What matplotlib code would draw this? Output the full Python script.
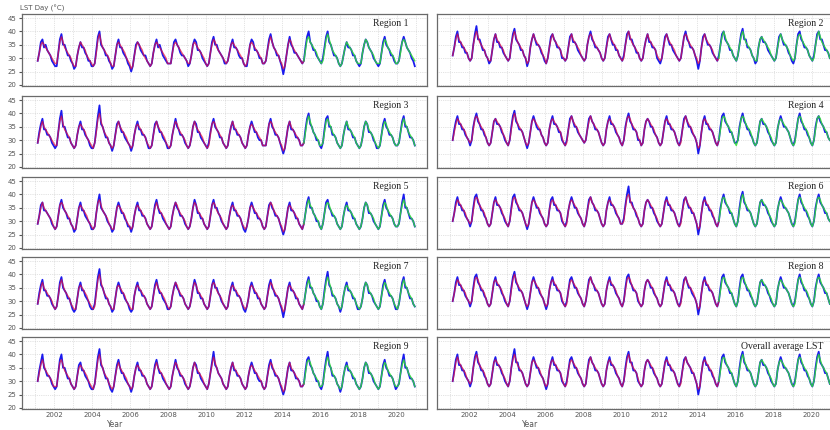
import numpy as np
import matplotlib
matplotlib.use("Agg")
import matplotlib.pyplot as plt
from matplotlib.ticker import MultipleLocator

# monthly LST Day (°C), Feb 2001 .. Dec 2020, one row per year
# *_obs = observed, *_mod = model (train until Feb 2015, test after)
r1_obs = [
    [29, 32, 36, 37, 34, 35, 33, 32, 31, 29, 28],
    [27, 27, 32, 37, 39, 35, 35, 33, 31, 31, 29, 28],
    [26, 27, 31, 34, 36, 34, 34, 32, 31, 29, 29, 27],
    [27, 28, 33, 38, 40, 35, 34, 33, 31, 31, 29, 28],
    [26, 27, 31, 35, 37, 34, 34, 32, 31, 30, 28, 27],
    [25, 27, 31, 35, 36, 35, 33, 32, 31, 31, 29, 28],
    [27, 28, 32, 35, 37, 34, 35, 33, 31, 30, 29, 28],
    [28, 28, 32, 36, 37, 35, 34, 32, 31, 31, 30, 29],
    [27, 28, 31, 35, 37, 36, 33, 33, 32, 30, 29, 28],
    [27, 28, 32, 36, 38, 35, 35, 33, 32, 31, 30, 28],
    [28, 29, 32, 35, 37, 34, 34, 33, 31, 30, 30, 28],
    [27, 27, 31, 35, 37, 36, 33, 33, 32, 30, 30, 28],
    [28, 29, 33, 37, 39, 36, 34, 33, 31, 31, 29, 27],
    [24, 27, 31, 35, 38, 35, 34, 32, 32, 31, 30, 29],
    [28, 29, 34, 38, 40, 36, 35, 33, 33, 31, 30, 29],
    [28, 30, 34, 38, 40, 36, 35, 33, 31, 31, 30, 28],
    [27, 28, 31, 34, 36, 34, 34, 33, 31, 31, 29, 28],
    [27, 28, 32, 35, 37, 36, 34, 33, 32, 30, 29, 28],
    [27, 28, 32, 36, 38, 35, 34, 33, 31, 31, 29, 28],
    [28, 29, 33, 36, 38, 36, 34, 33, 32, 30, 29, 27],
]
r1_mod = [
    [29, 32, 35, 36, 35, 34, 33, 32, 31, 30, 29],
    [28, 28, 32, 36, 38, 36, 34, 33, 32, 31, 30, 28],
    [27, 27, 31, 34, 36, 35, 34, 33, 31, 30, 29, 28],
    [27, 28, 32, 37, 39, 36, 34, 33, 32, 31, 30, 28],
    [27, 27, 31, 35, 36, 35, 34, 33, 32, 30, 29, 28],
    [26, 27, 31, 34, 36, 35, 34, 33, 31, 30, 29, 28],
    [27, 28, 32, 35, 36, 35, 34, 33, 32, 31, 30, 28],
    [28, 28, 32, 35, 36, 35, 34, 33, 32, 31, 30, 29],
    [28, 28, 31, 35, 36, 35, 34, 33, 32, 31, 30, 28],
    [27, 28, 32, 35, 37, 36, 34, 33, 32, 31, 30, 29],
    [28, 29, 32, 35, 36, 35, 34, 33, 32, 31, 30, 28],
    [27, 28, 31, 35, 36, 35, 34, 33, 32, 31, 30, 28],
    [28, 29, 33, 36, 38, 36, 34, 33, 32, 31, 29, 28],
    [26, 27, 31, 35, 37, 36, 34, 33, 32, 31, 30, 29],
    [28, 29, 33, 37, 38, 36, 35, 34, 33, 32, 30, 29],
    [28, 29, 33, 37, 39, 37, 35, 33, 32, 31, 30, 28],
    [27, 28, 31, 34, 36, 35, 34, 33, 32, 31, 29, 28],
    [28, 28, 32, 35, 37, 36, 34, 33, 32, 31, 29, 28],
    [28, 28, 32, 35, 37, 36, 34, 33, 32, 31, 30, 28],
    [28, 29, 32, 36, 37, 36, 34, 33, 32, 31, 30, 29],
]
r2_obs = [
    [31, 34, 38, 40, 36, 36, 34, 34, 32, 32, 30],
    [29, 30, 35, 39, 42, 37, 37, 35, 33, 33, 31, 30],
    [28, 29, 33, 37, 39, 36, 36, 34, 34, 32, 31, 30],
    [29, 30, 35, 39, 41, 37, 36, 35, 33, 33, 31, 30],
    [27, 29, 34, 37, 39, 37, 35, 35, 34, 32, 31, 29],
    [28, 30, 34, 38, 39, 37, 36, 34, 34, 33, 30, 30],
    [29, 30, 34, 38, 39, 36, 36, 35, 33, 32, 31, 30],
    [29, 30, 35, 38, 40, 37, 36, 34, 34, 33, 32, 30],
    [29, 30, 34, 38, 39, 37, 35, 35, 33, 33, 31, 30],
    [29, 31, 35, 39, 40, 37, 37, 35, 34, 32, 32, 30],
    [29, 30, 34, 37, 39, 36, 36, 34, 34, 33, 30, 29],
    [28, 30, 34, 38, 39, 37, 35, 35, 33, 32, 31, 30],
    [29, 30, 34, 38, 40, 37, 36, 34, 34, 33, 31, 29],
    [26, 29, 34, 38, 39, 37, 35, 35, 34, 32, 31, 30],
    [29, 31, 35, 39, 40, 37, 36, 35, 33, 33, 31, 30],
    [29, 31, 35, 39, 41, 37, 37, 34, 34, 33, 31, 30],
    [28, 29, 34, 37, 38, 36, 36, 35, 33, 32, 31, 30],
    [29, 30, 34, 38, 39, 37, 35, 35, 34, 32, 31, 29],
    [28, 30, 35, 39, 40, 37, 36, 34, 34, 33, 31, 30],
    [29, 31, 35, 39, 40, 37, 37, 35, 33, 33, 32, 30],
]
r2_mod = [
    [31, 34, 37, 39, 37, 36, 35, 34, 33, 32, 30],
    [29, 30, 35, 38, 40, 38, 36, 35, 34, 33, 31, 30],
    [29, 29, 33, 37, 39, 37, 36, 35, 34, 33, 31, 30],
    [29, 30, 35, 38, 40, 38, 36, 35, 34, 33, 31, 30],
    [28, 29, 34, 37, 39, 37, 36, 35, 34, 33, 31, 30],
    [28, 30, 34, 37, 39, 37, 36, 35, 34, 33, 31, 30],
    [29, 30, 34, 37, 39, 37, 36, 35, 34, 33, 31, 30],
    [29, 30, 35, 38, 39, 38, 36, 35, 34, 33, 32, 30],
    [29, 30, 34, 37, 39, 37, 36, 35, 34, 33, 31, 30],
    [29, 30, 35, 38, 40, 38, 36, 35, 34, 33, 32, 30],
    [29, 30, 34, 37, 39, 37, 36, 35, 34, 33, 31, 30],
    [29, 30, 34, 37, 39, 37, 36, 35, 34, 33, 31, 30],
    [29, 30, 34, 38, 39, 38, 36, 35, 34, 33, 31, 30],
    [28, 29, 34, 37, 39, 37, 36, 35, 34, 33, 31, 30],
    [29, 30, 35, 38, 40, 38, 36, 35, 34, 33, 31, 30],
    [29, 31, 35, 38, 40, 38, 36, 35, 34, 33, 31, 30],
    [29, 29, 34, 37, 38, 37, 36, 35, 34, 33, 31, 30],
    [29, 30, 34, 37, 39, 37, 36, 35, 34, 33, 31, 30],
    [29, 30, 35, 38, 39, 38, 36, 35, 34, 33, 31, 30],
    [29, 30, 35, 38, 40, 38, 36, 35, 34, 33, 32, 30],
]
r3_obs = [
    [29, 33, 36, 38, 34, 34, 32, 32, 31, 29, 28],
    [27, 28, 33, 38, 41, 35, 35, 33, 31, 31, 29, 28],
    [27, 28, 32, 35, 37, 34, 34, 32, 31, 30, 28, 27],
    [27, 29, 34, 39, 43, 36, 35, 33, 31, 31, 29, 28],
    [26, 28, 32, 36, 37, 35, 33, 33, 31, 30, 29, 28],
    [26, 28, 32, 35, 37, 34, 34, 32, 32, 31, 29, 27],
    [27, 28, 32, 36, 37, 35, 33, 33, 31, 30, 29, 27],
    [27, 28, 32, 35, 38, 35, 34, 32, 32, 31, 29, 28],
    [27, 28, 31, 35, 37, 36, 33, 33, 31, 30, 29, 28],
    [27, 29, 33, 36, 38, 35, 34, 33, 31, 31, 29, 28],
    [27, 28, 32, 35, 37, 34, 34, 32, 32, 31, 29, 28],
    [27, 28, 32, 35, 37, 35, 33, 33, 31, 30, 30, 28],
    [28, 28, 32, 36, 38, 35, 34, 32, 32, 31, 29, 27],
    [25, 27, 31, 35, 37, 34, 34, 33, 31, 31, 30, 28],
    [28, 29, 34, 38, 40, 36, 35, 33, 32, 30, 30, 28],
    [27, 29, 34, 38, 39, 35, 35, 32, 32, 31, 29, 28],
    [27, 28, 32, 35, 37, 34, 34, 33, 31, 31, 29, 28],
    [27, 28, 31, 35, 37, 36, 33, 33, 32, 30, 29, 27],
    [27, 28, 32, 36, 38, 35, 34, 32, 32, 31, 29, 28],
    [28, 29, 33, 37, 39, 35, 35, 33, 31, 31, 30, 28],
]
r3_mod = [
    [29, 32, 35, 37, 35, 34, 33, 32, 31, 30, 29],
    [28, 28, 33, 37, 39, 36, 34, 33, 32, 31, 29, 28],
    [27, 28, 32, 35, 36, 35, 34, 33, 31, 30, 29, 28],
    [27, 29, 33, 38, 40, 37, 35, 33, 32, 31, 29, 28],
    [27, 28, 32, 35, 37, 35, 34, 33, 32, 31, 29, 28],
    [27, 28, 32, 35, 36, 35, 34, 33, 32, 31, 29, 28],
    [27, 28, 32, 35, 37, 35, 34, 33, 32, 31, 29, 28],
    [27, 28, 32, 35, 37, 36, 34, 33, 32, 31, 30, 28],
    [27, 28, 31, 35, 37, 35, 34, 33, 32, 31, 29, 28],
    [27, 28, 32, 36, 37, 36, 34, 33, 32, 31, 29, 28],
    [27, 28, 32, 35, 37, 35, 34, 33, 32, 31, 29, 28],
    [27, 28, 32, 35, 36, 35, 34, 33, 32, 31, 30, 28],
    [28, 28, 32, 36, 37, 36, 34, 33, 32, 31, 29, 28],
    [26, 27, 31, 35, 37, 35, 34, 33, 32, 31, 30, 28],
    [28, 29, 33, 37, 39, 37, 35, 33, 32, 31, 30, 28],
    [28, 29, 33, 37, 38, 36, 35, 33, 32, 31, 29, 28],
    [27, 28, 32, 35, 37, 35, 34, 33, 32, 31, 29, 28],
    [27, 28, 31, 35, 37, 36, 34, 33, 32, 31, 29, 28],
    [27, 28, 32, 35, 37, 36, 34, 33, 32, 31, 29, 28],
    [28, 29, 33, 36, 38, 36, 35, 33, 32, 31, 30, 28],
]
r4_obs = [
    [30, 34, 37, 39, 36, 36, 34, 34, 32, 31, 30],
    [28, 30, 35, 38, 40, 37, 36, 34, 34, 32, 31, 29],
    [28, 29, 33, 37, 38, 36, 36, 35, 33, 32, 30, 29],
    [28, 30, 35, 39, 41, 37, 36, 34, 34, 33, 31, 29],
    [27, 29, 33, 37, 39, 37, 35, 34, 34, 32, 31, 29],
    [28, 29, 34, 37, 39, 36, 36, 35, 33, 33, 30, 29],
    [28, 30, 34, 38, 39, 37, 35, 35, 33, 32, 31, 30],
    [29, 30, 34, 38, 39, 37, 36, 34, 34, 33, 31, 29],
    [28, 29, 34, 37, 39, 36, 36, 35, 33, 32, 31, 29],
    [28, 30, 35, 38, 40, 37, 36, 34, 34, 33, 30, 30],
    [28, 29, 34, 37, 38, 37, 35, 35, 33, 32, 31, 29],
    [28, 29, 33, 37, 39, 36, 36, 34, 34, 33, 31, 29],
    [28, 30, 34, 38, 39, 37, 35, 35, 33, 32, 31, 29],
    [25, 28, 33, 37, 39, 36, 36, 34, 34, 33, 31, 29],
    [28, 30, 35, 39, 40, 37, 36, 35, 33, 33, 31, 29],
    [29, 30, 35, 38, 40, 37, 36, 34, 34, 32, 31, 29],
    [28, 29, 33, 37, 38, 36, 36, 35, 33, 32, 30, 29],
    [28, 29, 34, 37, 39, 37, 35, 35, 34, 33, 31, 29],
    [28, 30, 34, 38, 40, 37, 36, 34, 34, 32, 31, 29],
    [28, 30, 35, 38, 39, 37, 36, 35, 33, 33, 31, 30],
]
r4_mod = [
    [30, 33, 36, 38, 37, 36, 35, 34, 33, 31, 30],
    [29, 30, 34, 38, 39, 38, 36, 35, 34, 33, 31, 29],
    [28, 29, 33, 37, 38, 37, 36, 35, 34, 32, 31, 29],
    [28, 30, 34, 38, 40, 38, 36, 35, 34, 33, 31, 29],
    [28, 29, 33, 37, 38, 37, 36, 35, 34, 32, 31, 29],
    [28, 29, 34, 37, 38, 37, 36, 35, 34, 33, 31, 29],
    [28, 29, 34, 37, 39, 37, 36, 35, 34, 32, 31, 30],
    [29, 30, 34, 37, 39, 37, 36, 35, 34, 33, 31, 29],
    [28, 29, 34, 37, 38, 37, 36, 35, 34, 32, 31, 29],
    [28, 30, 34, 38, 39, 38, 36, 35, 34, 33, 31, 30],
    [28, 29, 34, 37, 38, 37, 36, 35, 34, 32, 31, 29],
    [28, 29, 33, 37, 38, 37, 36, 35, 34, 33, 31, 29],
    [28, 29, 34, 37, 39, 37, 36, 35, 34, 32, 31, 29],
    [27, 28, 33, 37, 38, 37, 36, 35, 34, 33, 31, 29],
    [28, 30, 34, 38, 39, 38, 36, 35, 34, 33, 31, 29],
    [28, 30, 34, 38, 39, 38, 36, 35, 34, 33, 31, 29],
    [28, 29, 33, 37, 38, 37, 36, 35, 34, 32, 31, 29],
    [28, 29, 34, 37, 38, 37, 36, 35, 34, 33, 31, 29],
    [28, 29, 34, 38, 39, 38, 36, 35, 34, 33, 31, 29],
    [28, 30, 34, 38, 39, 38, 36, 35, 34, 33, 31, 30],
]
r5_obs = [
    [29, 32, 36, 37, 34, 34, 33, 32, 31, 29, 28],
    [27, 28, 32, 36, 38, 35, 34, 33, 31, 31, 29, 28],
    [26, 27, 31, 35, 37, 34, 34, 32, 31, 30, 29, 27],
    [27, 28, 33, 37, 40, 35, 34, 33, 32, 30, 29, 28],
    [26, 27, 31, 35, 37, 35, 33, 33, 31, 30, 28, 28],
    [26, 28, 32, 35, 37, 34, 34, 32, 32, 31, 29, 28],
    [27, 28, 32, 36, 38, 35, 33, 33, 31, 30, 29, 28],
    [27, 28, 32, 35, 37, 35, 34, 32, 32, 31, 29, 28],
    [27, 28, 31, 35, 38, 36, 33, 33, 31, 31, 29, 28],
    [27, 28, 32, 36, 38, 35, 35, 33, 32, 30, 29, 28],
    [27, 28, 32, 35, 37, 34, 34, 32, 32, 31, 29, 27],
    [26, 28, 31, 35, 37, 35, 33, 33, 31, 31, 30, 28],
    [27, 28, 32, 36, 37, 35, 34, 32, 32, 31, 29, 27],
    [25, 27, 31, 35, 37, 34, 34, 33, 31, 31, 29, 28],
    [27, 29, 33, 37, 39, 35, 35, 33, 32, 30, 30, 28],
    [27, 29, 33, 37, 38, 35, 34, 32, 32, 31, 29, 28],
    [27, 28, 32, 35, 37, 34, 34, 33, 31, 31, 29, 28],
    [27, 28, 31, 35, 37, 36, 33, 33, 32, 30, 29, 28],
    [27, 28, 32, 36, 38, 35, 34, 32, 32, 31, 29, 28],
    [28, 29, 33, 37, 40, 35, 35, 33, 31, 31, 30, 28],
]
r5_mod = [
    [29, 32, 35, 37, 35, 34, 33, 32, 31, 30, 28],
    [27, 28, 32, 36, 37, 36, 34, 33, 32, 31, 29, 28],
    [27, 27, 31, 35, 36, 35, 34, 33, 32, 30, 29, 28],
    [27, 28, 33, 37, 38, 36, 34, 33, 32, 31, 29, 28],
    [27, 27, 31, 35, 36, 35, 34, 33, 32, 30, 29, 28],
    [27, 28, 32, 35, 36, 35, 34, 33, 32, 31, 29, 28],
    [27, 28, 32, 35, 37, 35, 34, 33, 32, 31, 29, 28],
    [27, 28, 32, 35, 37, 36, 34, 33, 32, 31, 30, 28],
    [27, 28, 31, 35, 37, 36, 34, 33, 32, 31, 29, 28],
    [27, 28, 32, 36, 37, 36, 34, 33, 32, 31, 29, 28],
    [27, 28, 32, 35, 36, 35, 34, 33, 32, 31, 29, 28],
    [27, 28, 31, 35, 36, 35, 34, 33, 32, 31, 30, 28],
    [27, 28, 32, 35, 37, 36, 34, 33, 32, 31, 29, 28],
    [26, 27, 31, 35, 36, 35, 34, 33, 32, 31, 29, 28],
    [27, 29, 33, 36, 38, 36, 35, 33, 32, 31, 30, 28],
    [27, 29, 33, 36, 37, 36, 34, 33, 32, 31, 29, 28],
    [27, 28, 32, 35, 36, 35, 34, 33, 32, 31, 29, 28],
    [27, 28, 31, 35, 37, 36, 34, 33, 32, 31, 29, 28],
    [27, 28, 32, 35, 37, 36, 34, 33, 32, 31, 29, 28],
    [28, 29, 33, 36, 38, 36, 35, 33, 32, 31, 30, 28],
]
r6_obs = [
    [30, 33, 37, 39, 36, 36, 34, 34, 32, 31, 30],
    [28, 30, 35, 39, 40, 37, 36, 34, 34, 32, 31, 29],
    [28, 29, 33, 37, 39, 36, 36, 35, 33, 32, 30, 29],
    [28, 30, 35, 39, 40, 37, 36, 34, 34, 33, 31, 29],
    [27, 29, 33, 37, 39, 37, 35, 35, 33, 32, 31, 29],
    [28, 29, 34, 38, 39, 36, 36, 34, 34, 33, 30, 29],
    [28, 30, 34, 37, 39, 37, 35, 35, 33, 32, 31, 29],
    [28, 30, 34, 38, 39, 37, 36, 34, 34, 33, 31, 29],
    [28, 29, 34, 37, 39, 36, 36, 35, 33, 32, 31, 29],
    [29, 31, 36, 40, 43, 37, 37, 35, 34, 32, 31, 29],
    [28, 29, 34, 37, 38, 37, 35, 35, 33, 32, 30, 29],
    [28, 29, 33, 37, 39, 36, 36, 34, 34, 33, 31, 29],
    [28, 30, 34, 38, 39, 37, 35, 35, 33, 33, 31, 29],
    [25, 28, 33, 37, 39, 36, 36, 34, 34, 32, 31, 29],
    [28, 30, 35, 38, 40, 37, 36, 35, 33, 33, 31, 29],
    [28, 30, 35, 39, 41, 37, 36, 34, 34, 33, 31, 29],
    [28, 29, 33, 37, 38, 36, 36, 35, 33, 32, 30, 29],
    [28, 29, 34, 37, 39, 37, 35, 35, 34, 33, 31, 29],
    [28, 30, 34, 38, 40, 37, 36, 34, 34, 32, 31, 29],
    [28, 30, 35, 38, 40, 37, 36, 35, 33, 33, 31, 30],
]
r6_mod = [
    [30, 33, 36, 38, 37, 36, 35, 34, 33, 31, 30],
    [29, 30, 34, 38, 39, 38, 36, 35, 34, 33, 31, 29],
    [28, 29, 33, 37, 38, 37, 36, 35, 34, 32, 31, 29],
    [28, 30, 34, 38, 39, 38, 36, 35, 34, 33, 31, 29],
    [28, 29, 33, 37, 38, 37, 36, 35, 34, 32, 31, 29],
    [28, 29, 34, 37, 38, 37, 36, 35, 34, 33, 31, 29],
    [28, 29, 34, 37, 38, 37, 36, 35, 34, 32, 31, 29],
    [28, 30, 34, 37, 39, 37, 36, 35, 34, 33, 31, 29],
    [28, 29, 34, 37, 38, 37, 36, 35, 34, 32, 31, 29],
    [29, 30, 35, 39, 40, 38, 36, 35, 34, 33, 31, 29],
    [28, 29, 34, 37, 38, 37, 36, 35, 34, 32, 31, 29],
    [28, 29, 33, 37, 38, 37, 36, 35, 34, 33, 31, 29],
    [28, 29, 34, 37, 39, 37, 36, 35, 34, 33, 31, 29],
    [27, 28, 33, 37, 38, 37, 36, 35, 34, 33, 31, 29],
    [28, 30, 34, 38, 39, 38, 36, 35, 34, 33, 31, 29],
    [28, 30, 34, 38, 40, 38, 36, 35, 34, 33, 31, 29],
    [28, 29, 33, 37, 38, 37, 36, 35, 34, 32, 31, 29],
    [28, 29, 34, 37, 38, 37, 36, 35, 34, 33, 31, 29],
    [28, 29, 34, 38, 39, 38, 36, 35, 34, 33, 31, 29],
    [28, 30, 34, 38, 39, 38, 36, 35, 34, 33, 31, 30],
]
r7_obs = [
    [29, 33, 36, 38, 34, 34, 32, 32, 31, 29, 28],
    [27, 28, 32, 37, 39, 35, 34, 33, 31, 31, 29, 27],
    [26, 27, 31, 35, 37, 34, 34, 32, 31, 30, 28, 27],
    [27, 29, 34, 39, 42, 36, 35, 33, 31, 31, 29, 28],
    [26, 27, 31, 35, 37, 35, 33, 33, 31, 30, 29, 27],
    [26, 27, 32, 35, 37, 34, 34, 32, 32, 31, 29, 28],
    [27, 28, 32, 36, 38, 35, 33, 33, 31, 30, 29, 27],
    [27, 28, 32, 35, 37, 35, 34, 32, 32, 31, 29, 28],
    [27, 28, 31, 35, 38, 36, 33, 33, 31, 31, 29, 28],
    [27, 28, 32, 36, 38, 35, 35, 33, 32, 30, 29, 28],
    [27, 28, 32, 35, 37, 34, 34, 32, 32, 31, 29, 27],
    [26, 28, 31, 35, 37, 35, 33, 33, 31, 31, 29, 28],
    [27, 28, 32, 36, 38, 35, 34, 32, 32, 31, 29, 27],
    [24, 27, 31, 35, 37, 34, 34, 33, 31, 31, 29, 28],
    [27, 29, 33, 37, 39, 35, 35, 33, 32, 30, 30, 28],
    [27, 29, 34, 38, 41, 36, 35, 32, 32, 31, 29, 28],
    [26, 28, 32, 35, 37, 34, 34, 33, 31, 31, 29, 27],
    [27, 28, 31, 35, 37, 36, 33, 33, 32, 30, 29, 28],
    [27, 28, 32, 36, 38, 35, 34, 32, 32, 31, 29, 27],
    [27, 29, 33, 37, 39, 35, 35, 33, 31, 31, 29, 28],
]
r7_mod = [
    [29, 32, 35, 37, 35, 34, 33, 32, 31, 30, 28],
    [27, 28, 32, 36, 38, 36, 34, 33, 32, 31, 29, 28],
    [27, 27, 31, 35, 36, 35, 34, 33, 32, 30, 29, 28],
    [27, 28, 33, 38, 40, 37, 35, 33, 32, 31, 29, 28],
    [27, 27, 31, 35, 36, 35, 34, 33, 32, 30, 29, 28],
    [27, 27, 32, 35, 36, 35, 34, 33, 32, 31, 29, 28],
    [27, 28, 32, 35, 37, 35, 34, 33, 32, 31, 29, 28],
    [27, 28, 32, 35, 37, 36, 34, 33, 32, 31, 29, 28],
    [27, 28, 31, 35, 37, 36, 34, 33, 32, 31, 29, 28],
    [27, 28, 32, 36, 37, 36, 34, 33, 32, 31, 29, 28],
    [27, 28, 32, 35, 36, 35, 34, 33, 32, 31, 29, 28],
    [27, 28, 31, 35, 36, 35, 34, 33, 32, 31, 29, 28],
    [27, 28, 32, 35, 37, 36, 34, 33, 32, 31, 29, 28],
    [26, 27, 31, 35, 36, 35, 34, 33, 32, 31, 29, 28],
    [27, 29, 33, 36, 38, 36, 35, 33, 32, 31, 30, 28],
    [27, 29, 33, 37, 39, 37, 35, 33, 32, 31, 29, 28],
    [27, 28, 32, 35, 36, 35, 34, 33, 32, 31, 29, 28],
    [27, 28, 31, 35, 37, 36, 34, 33, 32, 31, 29, 28],
    [27, 28, 32, 35, 37, 36, 34, 33, 32, 31, 29, 28],
    [27, 29, 33, 36, 38, 36, 35, 33, 32, 31, 29, 28],
]
r8_obs = [
    [30, 33, 37, 39, 36, 36, 34, 34, 32, 31, 30],
    [28, 30, 35, 39, 40, 37, 36, 34, 34, 32, 31, 29],
    [28, 29, 33, 37, 39, 36, 36, 35, 33, 32, 30, 29],
    [28, 30, 35, 39, 41, 37, 36, 34, 34, 33, 31, 29],
    [27, 29, 33, 37, 39, 37, 35, 35, 33, 32, 31, 29],
    [27, 29, 34, 37, 39, 36, 36, 34, 34, 33, 30, 29],
    [28, 30, 34, 38, 39, 37, 35, 35, 33, 32, 31, 29],
    [28, 30, 34, 38, 39, 37, 36, 34, 34, 33, 31, 29],
    [28, 29, 34, 37, 39, 36, 36, 35, 33, 32, 31, 29],
    [28, 30, 35, 39, 40, 37, 36, 34, 34, 33, 30, 29],
    [28, 29, 34, 37, 38, 37, 35, 35, 33, 32, 31, 29],
    [28, 29, 33, 37, 39, 36, 36, 34, 34, 33, 31, 29],
    [28, 30, 34, 38, 39, 37, 35, 35, 33, 32, 31, 29],
    [25, 28, 33, 37, 39, 36, 36, 34, 34, 33, 31, 29],
    [28, 30, 35, 39, 40, 37, 36, 35, 33, 33, 31, 29],
    [28, 30, 35, 39, 40, 37, 36, 34, 34, 32, 31, 29],
    [28, 29, 33, 37, 38, 36, 36, 35, 33, 32, 30, 29],
    [28, 29, 34, 37, 39, 37, 35, 35, 34, 33, 31, 29],
    [28, 30, 34, 38, 40, 37, 36, 34, 34, 32, 31, 29],
    [28, 30, 35, 38, 40, 37, 36, 35, 33, 33, 31, 29],
]
r8_mod = [
    [30, 33, 36, 38, 37, 36, 35, 34, 33, 31, 30],
    [29, 30, 34, 38, 39, 38, 36, 35, 34, 33, 31, 29],
    [28, 29, 33, 37, 38, 37, 36, 35, 34, 32, 31, 29],
    [28, 30, 34, 38, 40, 38, 36, 35, 34, 33, 31, 29],
    [28, 29, 33, 37, 38, 37, 36, 35, 34, 32, 31, 29],
    [28, 29, 34, 37, 38, 37, 36, 35, 34, 33, 31, 29],
    [28, 29, 34, 37, 38, 37, 36, 35, 34, 32, 31, 29],
    [28, 30, 34, 37, 39, 37, 36, 35, 34, 33, 31, 29],
    [28, 29, 34, 37, 38, 37, 36, 35, 34, 32, 31, 29],
    [28, 30, 34, 38, 39, 38, 36, 35, 34, 33, 31, 29],
    [28, 29, 34, 37, 38, 37, 36, 35, 34, 32, 31, 29],
    [28, 29, 33, 37, 38, 37, 36, 35, 34, 33, 31, 29],
    [28, 29, 34, 37, 39, 37, 36, 35, 34, 33, 31, 29],
    [27, 28, 33, 37, 38, 37, 36, 35, 34, 33, 31, 29],
    [28, 30, 34, 38, 39, 38, 36, 35, 34, 33, 31, 29],
    [28, 30, 34, 38, 39, 38, 36, 35, 34, 33, 31, 29],
    [28, 29, 33, 37, 38, 37, 36, 35, 34, 32, 31, 29],
    [28, 29, 34, 37, 38, 37, 36, 35, 34, 33, 31, 29],
    [28, 29, 34, 38, 39, 38, 36, 35, 34, 33, 31, 29],
    [28, 30, 34, 38, 39, 38, 36, 35, 34, 33, 31, 29],
]
r9_obs = [
    [30, 34, 37, 40, 35, 34, 32, 32, 31, 29, 28],
    [27, 28, 33, 38, 40, 35, 35, 33, 31, 31, 29, 28],
    [27, 28, 32, 36, 37, 34, 34, 32, 31, 30, 28, 27],
    [27, 29, 34, 39, 42, 36, 35, 33, 31, 31, 29, 27],
    [26, 28, 32, 36, 38, 35, 33, 33, 31, 30, 29, 28],
    [26, 28, 32, 35, 37, 34, 34, 32, 32, 31, 29, 28],
    [27, 28, 32, 36, 38, 35, 33, 33, 31, 30, 29, 28],
    [27, 28, 32, 35, 38, 35, 34, 32, 32, 31, 29, 28],
    [27, 28, 31, 35, 37, 36, 33, 33, 31, 30, 29, 28],
    [27, 29, 33, 37, 41, 36, 35, 33, 32, 31, 29, 28],
    [27, 28, 32, 35, 37, 34, 34, 32, 32, 31, 29, 28],
    [27, 28, 32, 35, 37, 35, 33, 33, 31, 30, 30, 28],
    [27, 28, 32, 36, 38, 35, 34, 32, 32, 31, 29, 27],
    [25, 27, 31, 35, 37, 34, 34, 33, 31, 31, 30, 28],
    [28, 29, 34, 38, 39, 36, 35, 33, 32, 30, 30, 28],
    [27, 29, 34, 38, 41, 36, 35, 32, 32, 31, 29, 28],
    [26, 28, 32, 35, 37, 34, 34, 33, 31, 31, 29, 28],
    [27, 28, 31, 35, 37, 36, 33, 33, 32, 30, 29, 28],
    [27, 28, 32, 36, 38, 35, 34, 32, 32, 31, 29, 27],
    [28, 29, 33, 37, 40, 35, 35, 33, 31, 31, 30, 28],
]
r9_mod = [
    [30, 33, 36, 38, 36, 34, 33, 32, 31, 30, 28],
    [28, 28, 33, 37, 38, 36, 34, 33, 32, 31, 29, 28],
    [27, 28, 32, 35, 36, 35, 34, 33, 32, 30, 29, 28],
    [27, 29, 33, 38, 40, 37, 35, 33, 32, 31, 29, 28],
    [27, 28, 32, 35, 37, 35, 34, 33, 32, 31, 29, 28],
    [27, 28, 32, 35, 36, 35, 34, 33, 32, 31, 29, 28],
    [27, 28, 32, 35, 37, 35, 34, 33, 32, 31, 29, 28],
    [27, 28, 32, 35, 37, 36, 34, 33, 32, 31, 30, 28],
    [27, 28, 31, 35, 37, 35, 34, 33, 32, 31, 29, 28],
    [27, 29, 33, 36, 39, 37, 35, 33, 32, 31, 29, 28],
    [27, 28, 32, 35, 37, 35, 34, 33, 32, 31, 29, 28],
    [27, 28, 32, 35, 36, 35, 34, 33, 32, 31, 30, 28],
    [27, 28, 32, 35, 37, 36, 34, 33, 32, 31, 29, 28],
    [26, 27, 31, 35, 37, 35, 34, 33, 32, 31, 30, 28],
    [28, 29, 33, 37, 38, 37, 35, 33, 32, 31, 30, 28],
    [28, 29, 33, 37, 39, 37, 35, 33, 32, 31, 29, 28],
    [27, 28, 32, 35, 36, 35, 34, 33, 32, 31, 29, 28],
    [27, 28, 31, 35, 37, 36, 34, 33, 32, 31, 29, 28],
    [27, 28, 32, 35, 37, 36, 34, 33, 32, 31, 29, 28],
    [28, 29, 33, 36, 38, 36, 35, 33, 32, 31, 30, 28],
]
avg_obs = [
    [30, 34, 38, 40, 36, 36, 34, 34, 32, 31, 30],
    [28, 30, 35, 39, 41, 37, 36, 34, 34, 32, 31, 29],
    [28, 29, 33, 37, 39, 36, 36, 35, 33, 32, 30, 29],
    [28, 30, 35, 39, 42, 37, 37, 34, 34, 33, 31, 29],
    [28, 29, 33, 37, 39, 37, 35, 35, 33, 32, 31, 29],
    [27, 29, 34, 37, 39, 36, 36, 34, 34, 33, 30, 29],
    [28, 30, 34, 38, 39, 37, 35, 35, 33, 32, 31, 29],
    [28, 29, 34, 38, 39, 37, 36, 34, 34, 33, 31, 29],
    [28, 29, 34, 37, 39, 36, 36, 35, 33, 32, 31, 29],
    [28, 30, 35, 39, 41, 37, 37, 34, 34, 33, 30, 29],
    [28, 29, 34, 37, 38, 37, 35, 35, 33, 32, 31, 29],
    [28, 29, 33, 37, 39, 36, 36, 34, 34, 33, 31, 29],
    [28, 30, 34, 38, 39, 37, 36, 35, 33, 33, 31, 29],
    [25, 28, 33, 37, 39, 36, 36, 34, 34, 32, 31, 29],
    [28, 30, 35, 39, 40, 37, 36, 35, 33, 33, 31, 29],
    [28, 30, 35, 39, 41, 37, 36, 34, 34, 33, 31, 29],
    [28, 29, 33, 37, 38, 36, 36, 35, 33, 32, 30, 29],
    [28, 29, 34, 37, 39, 37, 35, 35, 34, 33, 31, 29],
    [28, 30, 34, 38, 40, 37, 36, 34, 34, 32, 31, 29],
    [28, 30, 35, 39, 41, 37, 36, 35, 33, 33, 31, 29],
]
avg_mod = [
    [30, 33, 37, 39, 37, 36, 35, 34, 33, 31, 30],
    [29, 30, 35, 38, 40, 38, 36, 35, 34, 33, 31, 29],
    [28, 29, 33, 37, 38, 37, 36, 35, 34, 32, 31, 29],
    [28, 30, 35, 38, 40, 38, 36, 35, 34, 33, 31, 29],
    [28, 29, 33, 37, 38, 37, 36, 35, 34, 32, 31, 29],
    [28, 29, 34, 37, 38, 37, 36, 35, 34, 33, 31, 29],
    [28, 29, 34, 37, 38, 37, 36, 35, 34, 32, 31, 29],
    [28, 29, 34, 37, 39, 37, 36, 35, 34, 33, 31, 29],
    [28, 29, 34, 37, 38, 37, 36, 35, 34, 32, 31, 29],
    [28, 30, 34, 38, 40, 38, 36, 35, 34, 33, 31, 29],
    [28, 29, 34, 37, 38, 37, 36, 35, 34, 32, 31, 29],
    [28, 29, 33, 37, 38, 37, 36, 35, 34, 33, 31, 29],
    [28, 29, 34, 37, 39, 37, 36, 35, 34, 33, 31, 29],
    [27, 28, 33, 37, 38, 37, 36, 35, 34, 33, 31, 29],
    [28, 30, 34, 38, 39, 38, 36, 35, 34, 33, 31, 29],
    [28, 30, 34, 38, 40, 38, 36, 35, 34, 33, 31, 29],
    [28, 29, 33, 37, 38, 37, 36, 35, 34, 32, 31, 29],
    [28, 29, 34, 37, 38, 37, 36, 35, 34, 33, 31, 29],
    [28, 29, 34, 38, 39, 38, 36, 35, 34, 33, 31, 29],
    [28, 30, 34, 38, 40, 38, 36, 35, 34, 33, 31, 29],
]

titles = ["Region 1", "Region 2", "Region 3", "Region 4", "Region 5",
          "Region 6", "Region 7", "Region 8", "Region 9", "Overall average LST"]
obs_sets = [r1_obs, r2_obs, r3_obs, r4_obs, r5_obs, r6_obs, r7_obs, r8_obs, r9_obs, avg_obs]
mod_sets = [r1_mod, r2_mod, r3_mod, r4_mod, r5_mod, r6_mod, r7_mod, r8_mod, r9_mod, avg_mod]

start_year, start_month = 2001, 2   # first value: Feb 2001
split_year, split_month = 2015, 2   # model switches from train to test here

n = sum(len(row) for row in r1_obs)
# mid-month position in decimal years
t = start_year + (start_month - 1 + np.arange(n) + 0.5) / 12.0
split = (split_year - start_year) * 12 + (split_month - start_month)

W, H = 830, 430
fig = plt.figure(figsize=(W / 100, H / 100), dpi=100)

col_left = [22, 437]
ax_w = 405
row_top = [14, 96, 177, 257, 337]
ax_h = 72

for i, (title, obs, mod) in enumerate(zip(titles, obs_sets, mod_sets)):
    r, c = divmod(i, 2)
    ax = fig.add_axes([col_left[c] / W, 1 - (row_top[r] + ax_h) / H, ax_w / W, ax_h / H])
    y_obs = np.concatenate([np.array(row, float) for row in obs])
    y_mod = np.concatenate([np.array(row, float) for row in mod])

    ax.plot(t, y_obs, color="#1a1aee", lw=1.3, zorder=2)
    ax.plot(t[:split + 1], y_mod[:split + 1], color="#e8103c", lw=1.0, alpha=0.7, zorder=3)
    ax.plot(t[split:], y_mod[split:], color="#30e030", lw=1.0, alpha=0.85, zorder=3)

    ax.set_xlim(2000.3, 2021.6)
    ax.set_ylim(19.6, 46.5)
    ax.xaxis.set_major_locator(MultipleLocator(2))
    ax.xaxis.set_minor_locator(MultipleLocator(1))
    ax.yaxis.set_major_locator(MultipleLocator(5))
    ax.grid(True, which="both", axis="x", ls=":", lw=0.5, color="#c8c8c8")
    ax.grid(True, which="major", axis="y", ls=":", lw=0.5, color="#c8c8c8")
    ax.set_axisbelow(True)
    ax.tick_params(which="both", length=0, labelsize=5, colors="#555555", pad=2)
    ax.tick_params(which="major", axis="y", length=2)
    for s in ax.spines.values():
        s.set_color("#6a6a6a")
        s.set_linewidth(0.9)

    if c == 1:
        ax.tick_params(axis="y", labelleft=False, length=0)
    if r < 4:
        ax.tick_params(axis="x", labelbottom=False)
    else:
        ax.text(2005.2, -0.15, "Year", transform=ax.get_xaxis_transform(),
                fontsize=5.5, color="#555555", ha="center", va="top")

    ax.text(0.955, 0.93, title, transform=ax.transAxes, ha="right", va="top",
            fontsize=7, family="Liberation Serif", color="#222222")

fig.text(20 / W, 1 - 8 / H, "LST Day (\u00b0C)", fontsize=5, color="#555555",
         ha="left", va="center")

fig.savefig("out.png", dpi=100)
